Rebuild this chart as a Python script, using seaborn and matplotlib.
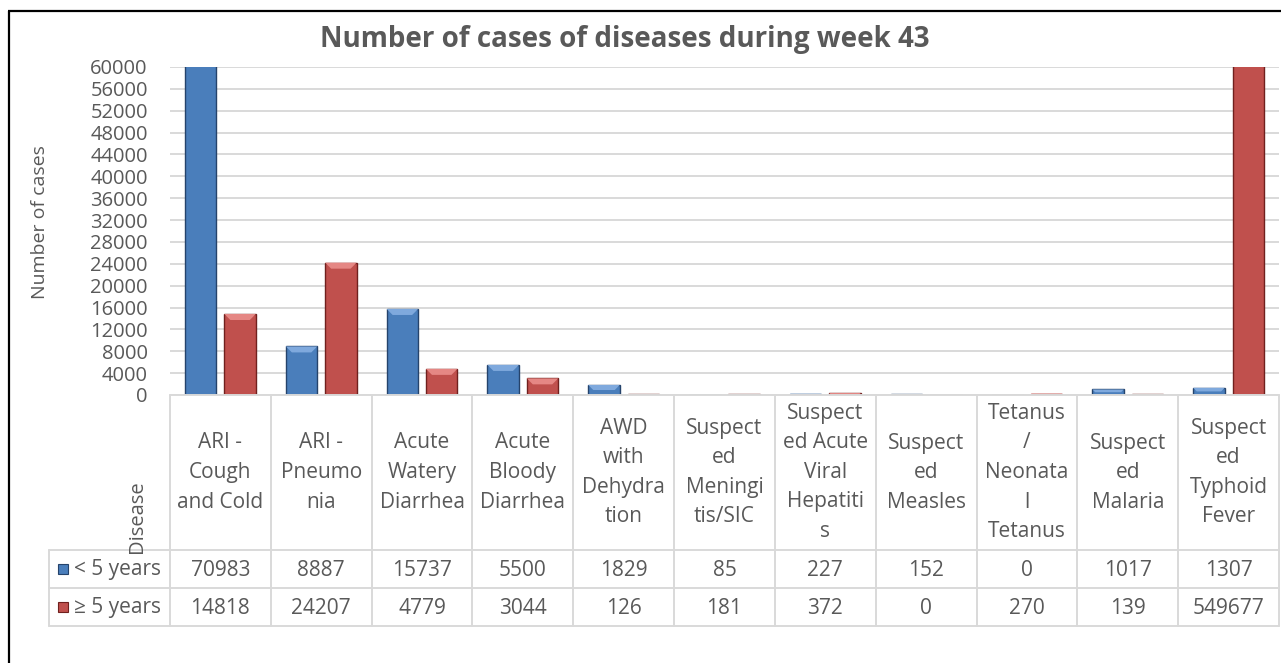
import numpy as np
import pandas as pd
import matplotlib
matplotlib.use("Agg")
import matplotlib.pyplot as plt
from matplotlib.patches import Rectangle
import seaborn as sns

# ---------------- data ----------------
diseases = [
    "ARI -\nCough\nand Cold",
    "ARI -\nPneumo\nnia",
    "Acute\nWatery\nDiarrhea",
    "Acute\nBloody\nDiarrhea",
    "AWD\nwith\nDehydra\ntion",
    "Suspect\ned\nMeningi\ntis/SIC",
    "Suspect\ned Acute\nViral\nHepatiti\ns",
    "Suspect\ned\nMeasles",
    "Tetanus\n/\nNeonata\nl\nTetanus",
    "Suspect\ned\nMalaria",
    "Suspect\ned\nTyphoid\nFever",
]
under5 = [70983, 8887, 15737, 5500, 1829, 85, 227, 152, 0, 1017, 1307]
over5 = [14818, 24207, 4779, 3044, 126, 181, 372, 0, 270, 139, 549677]
series_names = ["< 5 years", "\u2265 5 years"]
y_ticks = list(range(0, 60001, 4000))
title = "Number of cases of diseases during week 43"
y_label = "Number of cases"
x_label = "Disease"

# ---------------- style ----------------
W, H = 1281, 663
sns.set_theme(style="white")
plt.rcParams["font.family"] = ["Open Sans", "DejaVu Sans"]
TXT = "#595959"
GRID = "#D9D9D9"
BLUE, BLUE_EDGE, BLUE_LIGHT = "#4A7EBB", "#25436B", "#7FA9DD"
RED, RED_EDGE, RED_LIGHT = "#C0504D", "#70201E", "#E58784"
FS = 15
YMAX = 60000

df = pd.DataFrame({
    "disease": diseases * 2,
    "cases": under5 + over5,
    "age": [series_names[0]] * len(diseases) + [series_names[1]] * len(diseases),
})

fig = plt.figure(figsize=(W / 100, H / 100), dpi=100)
fig.patch.set_facecolor("white")

ax_l, ax_r, ax_t, ax_b = 170, 1279, 67, 395
ax = fig.add_axes([ax_l / W, 1 - ax_b / H, (ax_r - ax_l) / W, (ax_b - ax_t) / H])
sns.barplot(data=df, x="disease", y="cases", hue="age", order=diseases,
            hue_order=series_names, palette=[BLUE, RED], width=0.78, gap=0.2,
            ax=ax, legend=False, saturation=1)

n = len(diseases)
px_x = (ax_r - ax_l) / n          # pixels per category unit
px_y = (ax_b - ax_t) / YMAX       # pixels per case
bev = 6.0                         # bevel size in pixels
for cont, ec, lc in zip(ax.containers, [BLUE_EDGE, RED_EDGE], [BLUE_LIGHT, RED_LIGHT]):
    for p in cont:
        p.set_edgecolor(ec)
        p.set_linewidth(1.0)
        h = p.get_height()
        if h <= 0:
            continue
        x0, w = p.get_x(), p.get_width()
        b = min(bev, h * px_y / 2)
        dx, dy = b / px_x, b / px_y
        ax.fill([x0, x0 + w, x0 + w - dx, x0 + dx], [h, h, h - dy, h - dy],
                color=lc, lw=0, zorder=p.get_zorder() + 0.1, clip_on=True)

ax.set_ylim(0, YMAX)
ax.set_xlim(-0.5, n - 0.5)
ax.set_yticks(y_ticks)
ax.set_yticklabels([str(v) for v in y_ticks], fontsize=14.5, color=TXT)
ax.set_xticks([])
ax.tick_params(axis="y", length=0, pad=16)
ax.yaxis.grid(True, color=GRID, lw=1.4)
ax.set_axisbelow(True)
ax.set_xlabel("")
ax.set_ylabel("")
for s in ax.spines.values():
    s.set_visible(False)

# ---------------- overlay in pixel coordinates ----------------
ov = fig.add_axes([0, 0, 1, 1], zorder=5)
ov.set_xlim(0, W)
ov.set_ylim(H, 0)
ov.axis("off")
ov.patch.set_alpha(0)

# outer frame
ov.plot([8.5, 8.5], [11, H], color="black", lw=1.6, solid_capstyle="butt")
ov.plot([8, W], [11, 11], color="black", lw=1.6, solid_capstyle="butt")

# title and labels
ov.text(625, 40, title, fontsize=20, fontweight="bold", color=TXT, ha="center", va="center")
ov.text(40, 222, y_label, fontsize=14, color=TXT, rotation=90, ha="center", va="center")
ov.text(137, 553, x_label, fontsize=14.5, color=TXT, rotation=90, ha="center", va="bottom")

# table
col_w = px_x
hdr_top, hdr_bot, r1_bot, r2_bot = ax_b, 550, 588, 626
leg_l = 49
lw_t = 1.4
ov.plot([ax_l, ax_r], [hdr_top, hdr_top], color=GRID, lw=lw_t)
for yy in (hdr_bot, r1_bot, r2_bot):
    ov.plot([leg_l, ax_r], [yy, yy], color=GRID, lw=lw_t)
ov.plot([leg_l, leg_l], [hdr_bot, r2_bot], color=GRID, lw=lw_t)
for i in range(n + 1):
    xx = ax_l + i * col_w
    ov.plot([xx, xx], [hdr_top, r2_bot], color=GRID, lw=lw_t)

line_gap = 29.5
hdr_mid = (hdr_top + hdr_bot) / 2
for i, lab in enumerate(diseases):
    cx = ax_l + (i + 0.5) * col_w
    lines = lab.split("\n")
    k = len(lines)
    for j, ln in enumerate(lines):
        yy = hdr_mid + (j - (k - 1) / 2) * line_gap
        ov.text(cx, yy, ln, fontsize=FS, color=TXT, ha="center", va="center")

row_mid = [(hdr_bot + r1_bot) / 2, (r1_bot + r2_bot) / 2]
for vals, ym, name, fc, ec in zip([under5, over5], row_mid, series_names,
                                 [BLUE, RED], [BLUE_EDGE, RED_EDGE]):
    for i, v in enumerate(vals):
        cx = ax_l + (i + 0.5) * col_w
        ov.text(cx, ym + 1, str(v), fontsize=FS, color=TXT, ha="center", va="center")
    ov.add_patch(Rectangle((58, ym - 5), 10, 10, facecolor=fc, edgecolor=ec, lw=0.8))
    ov.text(74, ym + 1, name, fontsize=FS, color=TXT, ha="left", va="center")

fig.savefig("out.png", dpi=100, facecolor="white")
